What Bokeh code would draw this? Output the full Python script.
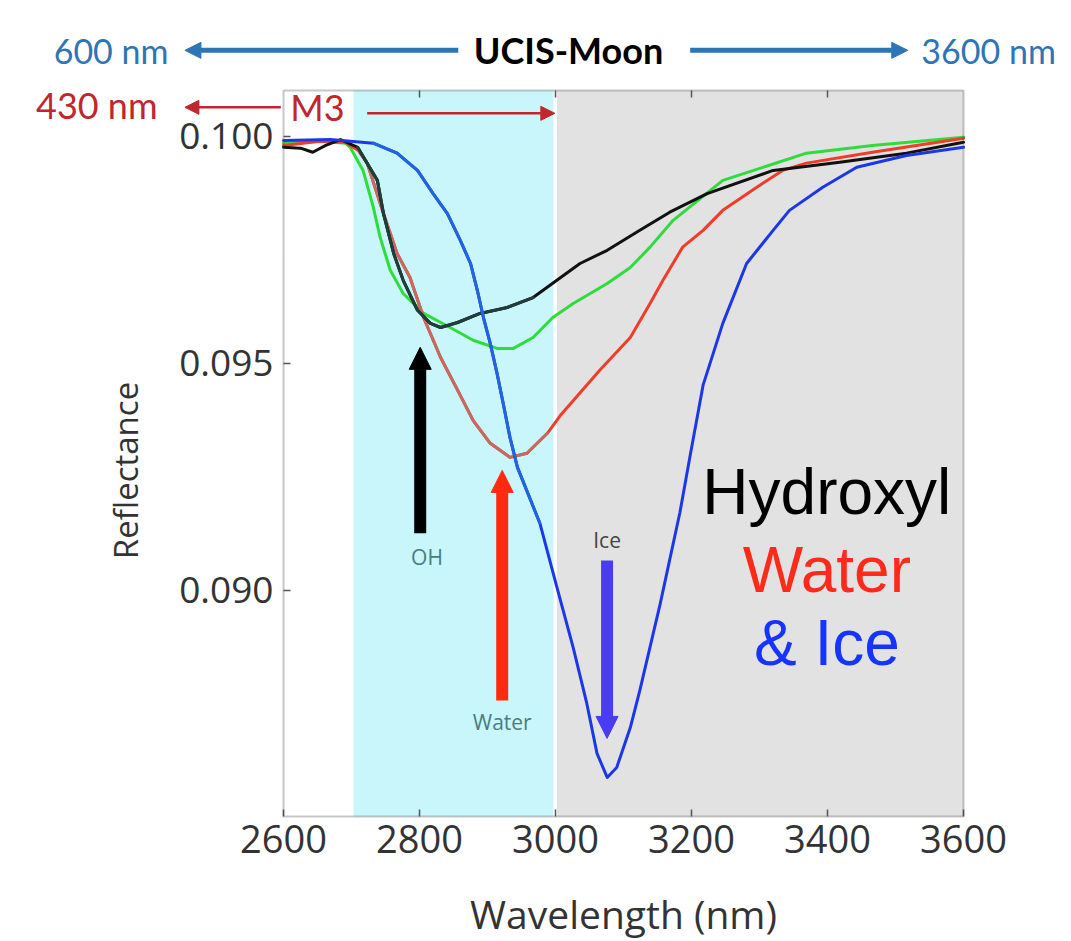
from bokeh.plotting import figure
from bokeh.models import (Range1d, BoxAnnotation, Label, Arrow, NormalHead,
                          LinearAxis, FixedTicker, PrintfTickFormatter)
from bokeh.embed import file_html
from bokeh.resources import INLINE

# ---------------- data ----------------
x_ticks = [2600, 2800, 3000, 3200, 3400, 3600]
top_ticks = [2800, 3000, 3200, 3400]
y_ticks = [0.090, 0.095, 0.100]
y_tick_labels = ["0.090", "0.095", "0.100"]

x_lo, x_hi = 2600, 3600          # plotted wavelength range
y_lo, y_hi = 0.08502, 0.10101    # plotted reflectance range

region_left = [2703, 3002]
region_right = [2997, 3600]
region_color = ["#c8f6fa", "#e2e2e2"]

hydroxyl_wl = [2600, 2625, 2643, 2662, 2684, 2709, 2738, 2747, 2762, 2776, 2797, 2816,
               2831, 2856, 2889, 2929, 2967, 3002, 3036, 3076, 3124, 3168, 3223, 3320,
               3418, 3516, 3600]
hydroxyl_refl = [0.09976, 0.09974, 0.09965, 0.09980, 0.09993, 0.09976, 0.09903, 0.09830,
                 0.09742, 0.09683, 0.09617, 0.09588, 0.09579, 0.09590, 0.09610, 0.09623,
                 0.09645, 0.09683, 0.09720, 0.09749, 0.09793, 0.09833, 0.09874, 0.09925,
                 0.09943, 0.09963, 0.09987]

green_wl = [2600, 2654, 2691, 2698, 2717, 2732, 2742, 2757, 2776, 2806, 2845, 2879, 2914,
            2938, 2967, 2996, 3026, 3076, 3110, 3139, 3173, 3246, 3369, 3466, 3600]
green_refl = [0.09985, 0.09989, 0.09985, 0.09976, 0.09925, 0.09844, 0.09778, 0.09705,
              0.09654, 0.09610, 0.09579, 0.09551, 0.09533, 0.09533, 0.09557, 0.09601,
              0.09632, 0.09676, 0.09711, 0.09756, 0.09815, 0.09903, 0.09963, 0.09980,
              0.09998]

water_wl = [2600, 2654, 2691, 2710, 2723, 2747, 2767, 2786, 2806, 2831, 2856, 2879, 2904,
            2933, 2958, 2988, 3007, 3065, 3110, 3139, 3158, 3187, 3217, 3246, 3296, 3334,
            3369, 3466, 3600]
water_refl = [0.09980, 0.09989, 0.09987, 0.09969, 0.09941, 0.09830, 0.09742, 0.09689,
              0.09601, 0.09513, 0.09441, 0.09374, 0.09324, 0.09293, 0.09302, 0.09346,
              0.09385, 0.09485, 0.09557, 0.09632, 0.09683, 0.09756, 0.09793, 0.09837,
              0.09888, 0.09925, 0.09941, 0.09965, 0.09996]

ice_wl = [2600, 2669, 2732, 2767, 2797, 2820, 2841, 2860, 2875, 2885, 2894, 2904, 2914,
          2923, 2933, 2944, 2977, 3002, 3026, 3046, 3061, 3076, 3090, 3110, 3124, 3154,
          3183, 3198, 3217, 3246, 3281, 3320, 3344, 3393, 3443, 3516, 3600]
ice_refl = [0.09991, 0.09993, 0.09985, 0.09963, 0.09925, 0.09874, 0.09830, 0.09771,
            0.09720, 0.09661, 0.09601, 0.09544, 0.09478, 0.09412, 0.09337, 0.09271,
            0.09148, 0.09007, 0.08874, 0.08751, 0.08641, 0.08588, 0.08610, 0.08698,
            0.08780, 0.08971, 0.09172, 0.09297, 0.09452, 0.09588, 0.09720, 0.09793,
            0.09837, 0.09888, 0.09932, 0.09958, 0.09976]

# ---------------- figure ----------------
# The frame fills the whole canvas so that the header annotations are not clipped;
# the plotting box and its axes are placed at fixed data locations inside it.
p = figure(width=1064, height=940,
           x_range=Range1d(2183.8, 3748.5), y_range=Range1d(0.082289, 0.102992),
           x_axis_location=None, y_axis_location=None,
           output_backend="svg", toolbar_location=None,
           min_border_left=0, min_border_right=0, min_border_top=0, min_border_bottom=0)
p.background_fill_color = "white"
p.border_fill_color = "white"
p.outline_line_color = None
p.xgrid.grid_line_color = None
p.ygrid.grid_line_color = None

for l, r, c in zip(region_left, region_right, region_color):
    p.add_layout(BoxAnnotation(left=l, right=r, bottom=y_lo, top=y_hi, fill_color=c,
                               fill_alpha=1.0, line_color=None, level="underlay"))

FONT = "Open Sans"

def style_axis(ax):
    ax.axis_line_color = None
    ax.major_tick_in = 7
    ax.major_tick_out = 0
    ax.major_tick_line_color = "#555555"
    ax.major_tick_line_width = 1.5
    ax.minor_tick_line_color = None
    ax.major_label_text_font = FONT
    ax.major_label_text_color = "#333333"
    ax.axis_label_text_font = FONT
    ax.axis_label_text_font_style = "normal"
    ax.axis_label_text_color = "#333333"

xaxis = LinearAxis(fixed_location=y_lo, ticker=FixedTicker(ticks=x_ticks))
style_axis(xaxis)
xaxis.major_label_text_font_size = "38px"
xaxis.major_label_standoff = 8
p.add_layout(xaxis, "below")

# x-axis title, centred under the plotting box
p.add_layout(Label(x=(x_lo + x_hi) / 2, y=0.082884, text="Wavelength (nm)",
                   text_color="#333333", text_align="center", text_baseline="middle",
                   text_font=FONT, text_font_size="39px"))

yaxis = LinearAxis(fixed_location=x_lo, ticker=FixedTicker(ticks=y_ticks),
                   formatter=PrintfTickFormatter(format="%.3f"),
                   axis_label="Reflectance")
yaxis.major_label_overrides = dict(zip(y_ticks, y_tick_labels))
style_axis(yaxis)
yaxis.major_label_text_font_size = "37px"
yaxis.axis_label_text_font_size = "33px"
yaxis.major_label_standoff = 10
yaxis.axis_label_standoff = 28
p.add_layout(yaxis, "left")

top_axis = LinearAxis(fixed_location=y_hi, ticker=FixedTicker(ticks=top_ticks))
style_axis(top_axis)
top_axis.major_label_overrides = {t: "" for t in top_ticks}
p.add_layout(top_axis, "above")

# spectra
def in_cyan(wl, refl):
    pts = [(w, r) for w, r in zip(wl, refl) if region_left[0] <= w <= region_right[0]]
    return [w for w, _ in pts], [r for _, r in pts]

LW = dict(line_width=3, line_join="round", line_cap="round")
p.line(green_wl, green_refl, line_color="#2fdc3c", **LW)
p.line(water_wl, water_refl, line_color="#f03c28", **LW)
p.line(*in_cyan(water_wl, water_refl), line_color="#c46a60", **LW)
p.line(hydroxyl_wl, hydroxyl_refl, line_color="#111111", **LW)
p.line(*in_cyan(hydroxyl_wl, hydroxyl_refl), line_color="#1f3d3b", **LW)
p.line(ice_wl, ice_refl, line_color="#1c38e6", **LW)
p.line(*in_cyan(ice_wl, ice_refl), line_color="#2264e0", **LW)

# plot box outline
p.add_layout(BoxAnnotation(left=x_lo, right=x_hi, bottom=y_lo, top=y_hi,
                           fill_color=None, line_color="#444444", line_width=2))

# legend-like big texts
big = [("Hydroxyl", "#000000", 0.092159), ("Water", "#ff2a1a", 0.090441),
       ("& Ice", "#1733ff", 0.088833)]
for t, c, y in big:
    p.add_layout(Label(x=3399, y=y, text=t, text_color=c, text_align="center",
                       text_baseline="alphabetic", text_font="Liberation Sans",
                       text_font_size="64px"))

# vertical annotation arrows
def varrow(x, y0, y1, color, w=12, size=22):
    p.add_layout(Arrow(end=NormalHead(size=size, fill_color=color, line_color=color),
                       x_start=x, y_start=y0, x_end=x, y_end=y1,
                       line_color=color, line_width=w))

varrow(2801, 0.091256, 0.095353, "#000000")
varrow(2921.6, 0.087577, 0.092643, "#ff2a10")
varrow(3075.8, 0.090661, 0.086740, "#4a3cf5")

for t, x, y, c in [("OH", 2811, 0.090727, "#4a7d7e"), ("Water", 2921.6, 0.087093, "#4a7d7e"),
                   ("Ice", 3075.8, 0.091101, "#444444")]:
    p.add_layout(Label(x=x, y=y, text=t, text_color=c, text_align="center",
                       text_baseline="middle", text_font=FONT, text_font_size="21px"))

# header: UCIS-Moon range
BLUE = "#2e75b6"
HY = 0.101894
p.add_layout(Label(x=2262, y=HY, text="600 nm", text_color=BLUE, text_align="left",
                   text_baseline="middle", text_font="Lato", text_font_size="34px"))
p.add_layout(Label(x=3019, y=HY, text="UCIS-Moon", text_color="#000000", text_align="center",
                   text_baseline="middle", text_font="Lato", text_font_style="bold",
                   text_font_size="36px"))
p.add_layout(Label(x=3538, y=HY, text="3600 nm", text_color=BLUE, text_align="left",
                   text_baseline="middle", text_font="Lato", text_font_size="34px"))
p.add_layout(Arrow(end=NormalHead(size=16, fill_color=BLUE, line_color=BLUE),
                   x_start=2857, y_start=HY, x_end=2455, y_end=HY,
                   line_color=BLUE, line_width=5))
p.add_layout(Arrow(end=NormalHead(size=16, fill_color=BLUE, line_color=BLUE),
                   x_start=3198, y_start=HY, x_end=3518, y_end=HY,
                   line_color=BLUE, line_width=5))

# header: M3 range
RED = "#c0262d"
p.add_layout(Label(x=2236, y=0.100683, text="430 nm", text_color=RED, text_align="left",
                   text_baseline="middle", text_font="Lato", text_font_size="36px"))
p.add_layout(Label(x=2610, y=0.100639, text="M3", text_color=RED, text_align="left",
                   text_baseline="middle", text_font="Lato", text_font_size="36px"))
p.add_layout(Arrow(end=NormalHead(size=14, fill_color=RED, line_color=RED),
                   x_start=2596, y_start=0.100639, x_end=2455, y_end=0.100639,
                   line_color=RED, line_width=2.5))
p.add_layout(Arrow(end=NormalHead(size=14, fill_color=RED, line_color=RED),
                   x_start=2723, y_start=0.100507, x_end=2999, y_end=0.100507,
                   line_color=RED, line_width=2.5))

open("out.html", "w").write(file_html(p, INLINE))
